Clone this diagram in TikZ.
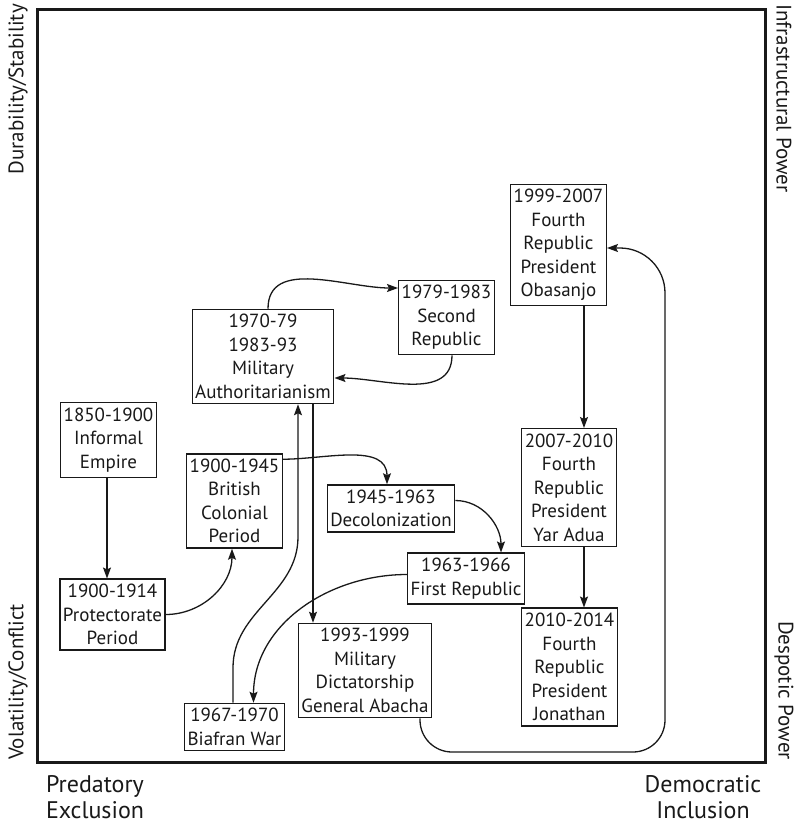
\documentclass[tikz,border=0pt]{standalone}
\usepackage{fontspec}
\setmainfont{PT Sans}
\usetikzlibrary{arrows.meta,calc}
\definecolor{ink}{RGB}{25,25,25}
\tikzset{
  period/.style={draw=ink, line width=1.3pt, fill=white, align=center, inner xsep=3pt, inner ysep=5pt,
    font=\fontsize{19}{23.5}\selectfont, text=ink},
  flow/.style={-{Stealth[length=11pt,width=8pt,inset=2pt]}, line width=1.3pt, draw=ink},
  axis/.style={font=\fontsize{21}{24}\selectfont, text=ink, inner sep=0pt},
  pole/.style={font=\fontsize{24}{26}\selectfont, text=ink, inner sep=0pt, align=center}
}
\begin{document}
\begin{tikzpicture}[x=1pt,y=1pt]
  \useasboundingbox (0,0) rectangle (795,-831);
  \draw[line width=3pt,ink] (37,-9) rectangle (765,-762);
  % axis captions
  \node[axis,rotate=90,anchor=east] (stab) at (18,-4) {Durability/Stability};
  \node[axis,rotate=90,anchor=west] (volat) at (18,-760) {Volatility/Conflict};
  \node[axis,rotate=-90,anchor=west] (infra) at (784,-4) {Infrastructural Power};
  \node[axis,rotate=-90,anchor=east] (desp) at (784,-760) {Despotic Power};
  \node[pole] (pred) at (95,-797) {Predatory\\Exclusion};
  \node[pole] (demo) at (703,-797) {Democratic\\Inclusion};
  % periods
  \node[period] (informal) at (108.5,-440) {1850-1900\\Informal\\Empire};
  \node[period] (protect) at (112.5,-614.5) {1900-1914\\Protectorate\\Period};
  \node[period] (colonial) at (234.5,-501) {1900-1945\\British\\Colonial\\Period};
  \node[period] (military) at (263,-356.5) {1970-79\\1983-93\\Military\\Authoritarianism};
  \node[period] (second) at (446.5,-317.5) {1979-1983\\Second\\Republic};
  \node[period] (decolon) at (391,-508.5) {1945-1963\\Decolonization};
  \node[period] (first) at (466,-578.5) {1963-1966\\First Republic};
  \node[period] (abacha) at (365,-670.5) {1993-1999\\Military\\Dictatorship\\General Abacha};
  \node[period] (biafra) at (234.5,-727) {1967-1970\\Biafran War};
  \node[period] (obasanjo) at (558.5,-245) {1999-2007\\Fourth\\Republic\\President\\Obasanjo};
  \node[period] (yaradua) at (569,-487.5) {2007-2010\\Fourth\\Republic\\President\\Yar Adua};
  \node[period] (jonathan) at (569.5,-667) {2010-2014\\Fourth\\Republic\\President\\Jonathan};
  \coordinate (loop) at (665,-752);
  % transitions
  \draw[flow] ([xshift=-1.5pt]informal.south) -- ([xshift=-1.5pt]informal.south |- protect.north);
  \draw[flow] (protect.east) to[out=0,in=-90] ([xshift=-2.5pt]colonial.south);
  \draw[flow] ([yshift=-6pt]colonial.north east) to[out=0,in=90] ([xshift=-4pt]decolon.north);
  \draw[flow] ([yshift=8pt]decolon.east) to[out=0,in=90] ([xshift=35pt]first.north);
  \draw[flow] ([yshift=4pt]first.west) to[out=180,in=90] ([xshift=19pt]biafra.north);
  \draw[flow] ([xshift=-1.5pt]biafra.north) -- ++(0,35) to[out=90,in=-90]
    ([xshift=35pt,yshift=12pt]military.south |- colonial.south) -- ([xshift=35pt]military.south);
  \draw[flow] ([xshift=50pt]military.south) -- ([xshift=50pt]military.south |- abacha.north);
  \draw[flow] ([xshift=5pt]military.north) to[out=90,in=180] ([yshift=29.5pt]second.west);
  \draw[flow] ([xshift=5.5pt]second.south) to[out=-90,in=0] ([yshift=-21.5pt]military.east);
  \draw[flow,rounded corners=32pt] ([xshift=55pt]abacha.south) |- (loop)
    [rounded corners=45pt] |- ([yshift=-3pt]obasanjo.east);
  \draw[flow] ([xshift=25.5pt]obasanjo.south) -- ([xshift=25.5pt]obasanjo.south |- yaradua.north);
  \draw[flow] ([xshift=15pt]yaradua.south) -- ([xshift=15pt]yaradua.south |- jonathan.north);
\end{tikzpicture}
\end{document}
